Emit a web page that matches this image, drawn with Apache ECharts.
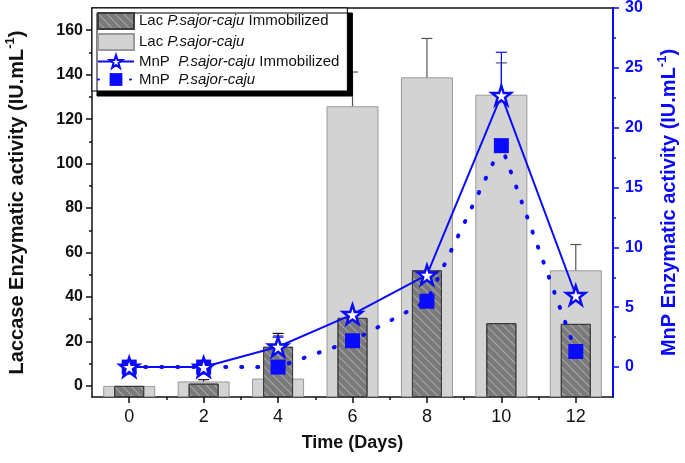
<!DOCTYPE html>
<html>
<head>
<meta charset="utf-8">
<script src="https://cdn.jsdelivr.net/npm/echarts@6/dist/echarts.min.js"></script>
<style>html,body{margin:0;padding:0;background:#fff}#c{width:685px;height:463px}</style>
</head>
<body>
<div id="c"></div>
<script>
const days = [0, 2, 4, 6, 8, 10, 12];
const lacFree = [0, 2.0, 3.3, 125.8, 138.8, 131.0, 52.0];
const lacFreeErr = [0, 0, 0, 15.4, 17.5, 14.3, 11.6];
const lacImm = [0, 1.0, 17.6, 30.6, 52.0, 28.2, 27.9];
const lacImmErr = [0, 1.8, 6.0, 0, 3.7, 0.3, 1.4];
const mnpImm = [0, 0, 1.7, 4.4, 7.7, 22.7, 6.0];
const mnpImmErr = [0, 0, 0.8, 0.3, 1.0, 3.6, 1.1];
const mnpFree = [0, 0, 0, 2.2, 5.5, 18.5, 1.3];
const mnpFreeErr = [0, 0, 2.6, 0, 0, 0.8, 0];
const xTicks = [0, 2, 4, 6, 8, 10, 12];
const xMinor = [1, 3, 5, 7, 9, 11];
const leftTicks = [0, 20, 40, 60, 80, 100, 120, 140, 160];
const leftMinor = [10, 30, 50, 70, 90, 110, 130, 150];
const rightTicks = [0, 5, 10, 15, 20, 25, 30];
const rightMinor = [2.5, 7.5, 12.5, 17.5, 22.5, 27.5];

const names = ['Lac P.sajor-caju Immobilized', 'Lac P.sajor-caju', 'MnP  P.sajor-caju Immobilized', 'MnP  P.sajor-caju'];
const FONT = 'Liberation Sans, Arial, sans-serif';
const BLUE = '#0a0aff';
const STAR = 'path://M50,2 L61.5,36 L97,36 L68.5,57.5 L79,92 L50,71 L21,92 L31.5,57.5 L3,36 L38.5,36 Z';

const pairs = (vals) => days.map((d, i) => [d, vals[i]]);
const triples = (vals, errs) => days.map((d, i) => [d, vals[i], errs[i]]);

function errRender(color, capW, lw) {
  return function (params, api) {
    const x = api.value(0), y = api.value(1), e = api.value(2);
    if (!e) return null;
    const top = api.coord([x, y + e]);
    const bot = api.coord([x, y - e]);
    const h = capW / 2;
    const style = { stroke: color, lineWidth: lw };
    return {
      type: 'group', children: [
        { type: 'line', shape: { x1: top[0], y1: top[1], x2: bot[0], y2: bot[1] }, style },
        { type: 'line', shape: { x1: top[0] - h, y1: top[1], x2: top[0] + h, y2: top[1] }, style },
        { type: 'line', shape: { x1: bot[0] - h, y1: bot[1], x2: bot[0] + h, y2: bot[1] }, style }
      ]
    };
  };
}

const chart = echarts.init(document.getElementById('c'), null, { renderer: 'canvas' });
const hidden = { show: false };
chart.setOption({
  animation: false,
  backgroundColor: '#fff',
  grid: { left: 92, right: 72, top: 8, bottom: 66, containLabel: false, outerBoundsMode: 'none' },
  legend: {
    orient: 'vertical', left: 92, top: 8,
    selectedMode: false,
    data: [
      { name: names[0], icon: 'rect' },
      { name: names[1], icon: 'rect' },
      { name: names[2] },
      { name: names[3] }
    ],
    itemWidth: 36, itemHeight: 16, itemGap: 3,
    padding: [4, 8, 4, 5],
    backgroundColor: '#fff', borderColor: '#000', borderWidth: 1,
    shadowColor: '#000', shadowOffsetX: 5, shadowOffsetY: 5, shadowBlur: 0,
    formatter: function (n) {
      return '{n|' + n.replace('P.sajor-caju', '}{i|P.sajor-caju}{n|') + '}';
    },
    textStyle: {
      fontFamily: FONT, fontSize: 15, color: '#111',
      rich: {
        n: { fontFamily: FONT, fontSize: 15, color: '#111' },
        i: { fontFamily: FONT, fontSize: 15, color: '#111', fontStyle: 'italic' }
      }
    }
  },
  xAxis: [
    {
      type: 'value', position: 'bottom', min: -1, max: 13,
      name: 'Time (Days)', nameLocation: 'middle', nameGap: 37,
      nameTextStyle: { fontFamily: FONT, fontSize: 18, fontWeight: 'bold', color: '#111' },
      axisLine: { show: true, onZero: false, lineStyle: { color: '#111', width: 1.5 } },
      axisTick: { show: true, inside: false, length: 6, customValues: xTicks, lineStyle: { color: '#111', width: 1.5 } },
      axisLabel: { show: true, customValues: xTicks, fontFamily: FONT, fontSize: 18, color: '#111', margin: 11 },
      splitLine: hidden
    },
    {
      type: 'value', position: 'top', min: -1, max: 13,
      axisLine: { show: true, onZero: false, lineStyle: { color: '#111', width: 1.5 } },
      axisTick: hidden, axisLabel: hidden, splitLine: hidden
    },
    {
      type: 'value', position: 'bottom', min: -1, max: 13,
      axisLine: { show: false, onZero: false },
      axisTick: { show: true, length: 3, customValues: xMinor, lineStyle: { color: '#111', width: 1.5 } },
      axisLabel: hidden, splitLine: hidden
    }
  ],
  yAxis: [
    {
      type: 'value', position: 'left', min: -5, max: 170, startValue: -5,
      name: '{b|Laccase Enzymatic activity (IU.mL}{s|-1}{b|)}',
      nameLocation: 'middle', nameGap: 62, nameRotate: 90,
      nameTextStyle: {
        color: '#111',
        rich: {
          b: { fontFamily: FONT, fontSize: 20, fontWeight: 'bold', color: '#111', lineHeight: 26 },
          s: { fontFamily: FONT, fontSize: 13, fontWeight: 'bold', color: '#111', verticalAlign: 'top', lineHeight: 26 }
        }
      },
      axisLine: { show: true, onZero: false, lineStyle: { color: '#111', width: 1.5 } },
      axisTick: { show: true, length: 6, customValues: leftTicks, lineStyle: { color: '#111', width: 1.5 } },
      axisLabel: { show: true, customValues: leftTicks, fontFamily: FONT, fontSize: 16, fontWeight: 'bold', color: '#111', margin: 9 },
      splitLine: hidden
    },
    {
      type: 'value', position: 'right', min: -2.5, max: 30,
      name: '{b|MnP Enzymatic activity (IU.mL}{s|-1}{b|)}',
      nameLocation: 'middle', nameGap: 43, nameRotate: 90,
      nameTextStyle: {
        color: BLUE,
        rich: {
          b: { fontFamily: FONT, fontSize: 20, fontWeight: 'bold', color: BLUE, lineHeight: 26 },
          s: { fontFamily: FONT, fontSize: 13, fontWeight: 'bold', color: BLUE, verticalAlign: 'top', lineHeight: 26 }
        }
      },
      axisLine: { show: true, onZero: false, lineStyle: { color: BLUE, width: 2 } },
      axisTick: { show: true, length: 6, customValues: rightTicks, lineStyle: { color: BLUE, width: 1.5 } },
      axisLabel: { show: true, customValues: rightTicks, fontFamily: FONT, fontSize: 16, fontWeight: 'bold', color: BLUE, margin: 12 },
      splitLine: hidden
    },
    {
      type: 'value', position: 'left', min: -5, max: 170,
      axisLine: { show: false, onZero: false },
      axisTick: { show: true, length: 3, customValues: leftMinor, lineStyle: { color: '#111', width: 1.5 } },
      axisLabel: hidden, splitLine: hidden
    },
    {
      type: 'value', position: 'right', min: -2.5, max: 30,
      axisLine: { show: false, onZero: false },
      axisTick: { show: true, length: 3, customValues: rightMinor, lineStyle: { color: BLUE, width: 1.5 } },
      axisLabel: hidden, splitLine: hidden
    }
  ],
  series: [
    {
      name: names[1], type: 'bar', xAxisIndex: 0, yAxisIndex: 0, barWidth: 52,
      data: pairs(lacFree),
      itemStyle: { color: '#d3d3d3', borderColor: '#9a9a9a', borderWidth: 1 }
    },
    {
      name: names[0], type: 'bar', xAxisIndex: 1, yAxisIndex: 0, barWidth: 30,
      data: pairs(lacImm),
      itemStyle: {
        color: '#7a7a7a', borderColor: '#3c3c3c', borderWidth: 1,
        decal: { symbol: 'rect', symbolSize: 1, color: 'rgba(255,255,255,0.35)', dashArrayX: [1, 0], dashArrayY: [1, 5], rotation: Math.PI / 4 }
      }
    },
    {
      type: 'custom', xAxisIndex: 0, yAxisIndex: 0, clip: true,
      data: triples(lacFree, lacFreeErr), renderItem: errRender('#555', 11, 1.2)
    },
    {
      type: 'custom', xAxisIndex: 0, yAxisIndex: 0, clip: true,
      data: triples(lacImm, lacImmErr), renderItem: errRender('#111', 11, 1.2)
    },
    {
      type: 'custom', xAxisIndex: 0, yAxisIndex: 1, clip: true,
      data: triples(mnpFree, mnpFreeErr), renderItem: errRender('#333', 10, 1.2)
    },
    {
      type: 'custom', xAxisIndex: 0, yAxisIndex: 1, clip: true,
      data: triples(mnpImm, mnpImmErr), renderItem: errRender(BLUE, 11, 1.2)
    },
    {
      name: names[3], type: 'line', xAxisIndex: 0, yAxisIndex: 1,
      data: pairs(mnpFree),
      symbol: 'rect', symbolSize: 15,
      itemStyle: { color: BLUE },
      lineStyle: { color: BLUE, width: 4, type: [1, 15], cap: 'round' }
    },
    {
      name: names[2], type: 'line', xAxisIndex: 0, yAxisIndex: 1,
      data: pairs(mnpImm),
      symbol: STAR, symbolSize: 19,
      itemStyle: { color: '#fff', borderColor: BLUE, borderWidth: 2.5 },
      lineStyle: { color: BLUE, width: 2 }
    }
  ]
});
</script>
</body>
</html>
